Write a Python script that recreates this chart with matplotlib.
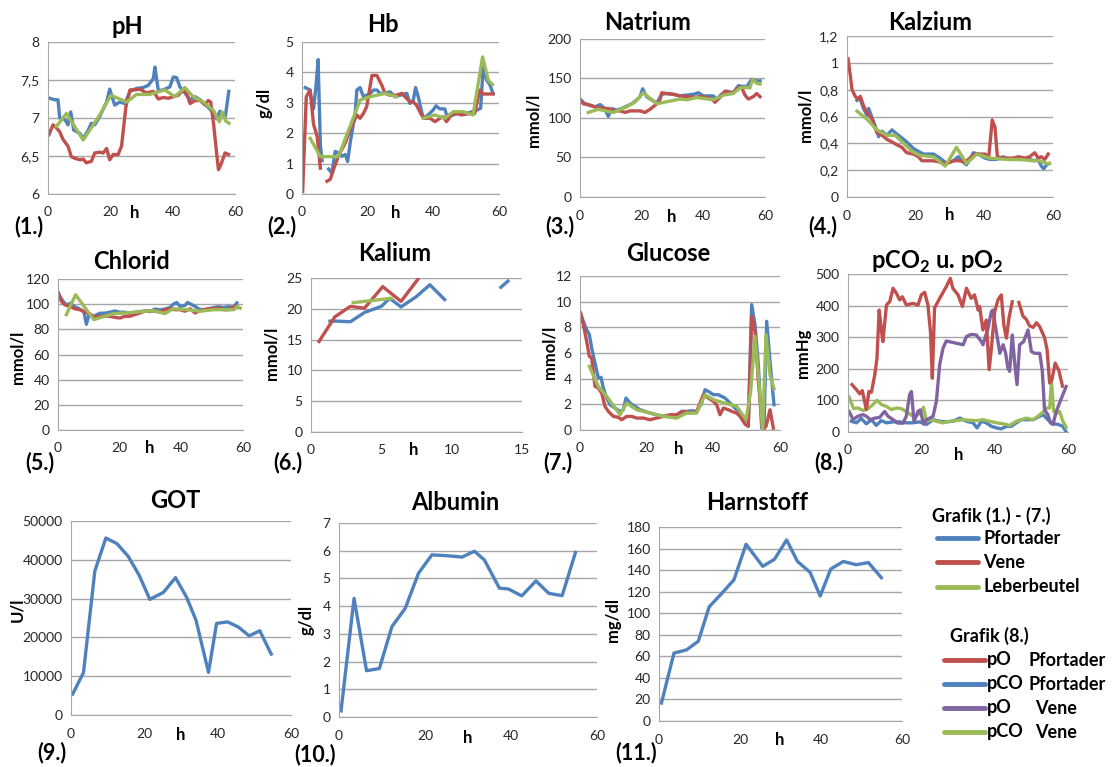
import numpy as np
import matplotlib
matplotlib.use('Agg')
import matplotlib.pyplot as plt
from matplotlib.ticker import FuncFormatter

plt.rcParams['font.family'] = ['Lato', 'DejaVu Sans']
plt.rcParams['mathtext.fontset'] = 'custom'
plt.rcParams['mathtext.rm'] = 'Lato'
plt.rcParams['mathtext.bf'] = 'Lato:bold'

BLUE = '#4F81BD'
RED = '#C0504D'
GREEN = '#9BBB59'
PURPLE = '#8064A2'
GRID = '#A6A6A6'
nan = np.nan

# (1.) pH
ph_pf_t = [0.5, 2.1, 3.2, 3.75, 5.4, 6.4, 7.3, 8.25, 10.2, 11.3, 12.9, 13.9, 15.0, 16.6, 18.8, 19.8, 21.4, 23.0, 24.7, 26.3, 28.4,
           30.5, 32.2, 33.8, 34.3, 35.4, 37.0, 39.1, 40.2, 41.3, 42.3, 43.9, 45.6, 47.2, 48.8, 50.9, 53.1, 54.1, 55.2, 56.1, 56.9, 58.0]
ph_pf = [7.26, 7.24, 7.24, 7.0, 6.98, 6.91, 7.08, 6.84, 6.80, 6.73, 6.84, 6.93, 6.91, 7.02, 7.21, 7.38, 7.17, 7.21, 7.19, 7.35, 7.39,
         7.40, 7.43, 7.52, 7.67, 7.36, 7.37, 7.41, 7.54, 7.53, 7.41, 7.33, 7.24, 7.28, 7.24, 7.16, 7.07, 6.99, 7.09, 7.05, 7.02, 7.35]
ph_ve_t = [0.3, 1.6, 2.7, 3.75, 4.8, 6.4, 7.5, 8.6, 10.2, 11.3, 12.3, 13.9, 15.0, 16.6, 17.7, 18.8, 19.8, 20.9, 22.5, 23.6, 25.0,
           26.3, 27.9, 29.5, 31.6, 33.8, 35.4, 37.0, 38.6, 40.2, 41.8, 43.4, 44.5, 45.6, 47.2, 48.8, 50.4, 51.4, 52.2, 53.1, 54.1,
           54.7, 55.7, 56.8, 57.9]
ph_ve = [6.78, 6.91, 6.87, 6.82, 6.72, 6.63, 6.49, 6.47, 6.45, 6.46, 6.41, 6.43, 6.54, 6.55, 6.54, 6.60, 6.45, 6.52, 6.52, 6.63, 7.15,
         7.37, 7.37, 7.38, 7.33, 7.35, 7.25, 7.27, 7.26, 7.28, 7.30, 7.37, 7.32, 7.19, 7.23, 7.23, 7.17, 7.23, 7.21, 6.93, 6.54,
         6.32, 6.41, 6.54, 6.52]
ph_lb_t = [2.7, 5.9, 11.3, 16.6, 20.2, 25.2, 28.4, 32.7, 37.5, 40.7, 43.9, 46.6, 49.8, 53.1, 55.0, 55.9, 57.0, 58.1]
ph_lb = [6.89, 7.06, 6.71, 7.04, 7.30, 7.21, 7.31, 7.31, 7.37, 7.28, 7.40, 7.28, 7.21, 7.10, 6.95, 7.08, 6.96, 6.93]

# (2.) Hb
hb_pf_t = [1.0, 2.3, 3.5, 4.3, 4.9, 5.6, 6.1, 7.0, 8.1, 9.1, 10.1, 11.1, 12.1, 13.2, 13.9, 14.7, 16.2, 16.7, 17.7, 18.7, 19.7,
           20.7, 21.8, 22.8, 23.8, 25.3, 26.8, 28.3, 29.9, 31.9, 32.9, 33.9, 34.6, 35.4, 36.9, 38.4, 40.0, 40.8, 42.0, 43.5,
           44.2, 45.5, 47.1, 48.6, 50.1, 51.6, 53.1, 54.4, 55.2, 56.2, 57.2, 58.2]
hb_pf = [3.5, 3.43, 2.8, 3.6, 4.42, 1.6, 1.1, nan, 0.82, 0.69, 1.4, 1.35, 1.24, 1.3, 1.07, 1.7, 2.65, 3.42, 3.5, 3.2, 3.25,
         3.3, 3.42, 3.42, 3.31, 3.31, 3.36, 3.2, 3.25, 3.31, 2.98, 3.09, 3.5, 3.2, 2.49, 2.6, 2.77, 2.9, 2.8, 2.8,
         2.53, 2.58, 2.64, 2.64, 2.64, 2.7, 2.75, 2.82, 4.18, 3.75, 3.6, 3.3]
hb_ve_t = [0.2, 1.3, 2.5, 3.5, 4.6, 5.6, 6.6, 7.6, 8.6, 9.6, 11.1, 13.2, 14.7, 16.7, 17.7, 18.7, 19.7, 21.3, 22.8, 24.3, 25.3,
           26.8, 28.8, 30.4, 31.9, 32.9, 33.9, 34.9, 36.4, 37.4, 39.0, 40.5, 42.0, 43.0, 44.0, 45.5, 47.1, 48.6, 51.1, 52.6,
           54.1, 55.2, 56.7, 58.2]
hb_ve = [0.09, 3.2, 3.42, 2.3, 1.9, 0.85, nan, 0.42, 0.48, 0.81, 1.25, 1.69, 2.13, 2.6, 2.49, 2.65, 2.87, 3.9, 3.9, 3.58, 3.31,
         3.25, 3.25, 3.31, 3.14, 3.03, 3.03, 2.92, 2.6, 2.49, 2.49, 2.38, 2.49, 2.54, 2.38, 2.6, 2.65, 2.6, 2.65, 2.65,
         3.42, 3.29, 3.29, 3.29]
hb_lb_t = [2.5, 5.6, 11.1, 17.7, 20.7, 25.3, 28.8, 33.0, 36.9, 40.5, 43.5, 46.1, 49.1, 52.1, 55.0, 56.7, 58.0]
hb_lb = [1.83, 1.23, 1.23, 3.09, 3.2, 3.31, 3.2, nan, 2.49, 2.6, 2.49, 2.71, 2.71, 2.6, 4.51, 3.75, 3.6]

# (3.) Natrium
na_pf_t = [0.2, 1.6, 3.2, 4.9, 6.5, 7.8, 9.2, 10.3, 11.9, 13.5, 15.1, 16.8, 18.4, 19.5, 20.3, 21.6, 23.2, 24.9, 26.5, 28.1, 30.3,
           32.4, 34.6, 36.8, 38.4, 40.0, 41.6, 43.2, 44.3, 45.9, 47.6, 49.7, 51.4, 52.4, 54.1, 55.7, 57.3, 58.4]
na_pf = [123, 118, 116, 114, 117, 113, 102, 112, 110, 112, 115, 118, 123, 127, 137, 127, 123, 119, 130, 131, 130,
         128, 129, 130, 132, 128, 128, 128, 124, 130, 134, 132, 141, 140, 140, 149, 147, 147]
na_ve_t = [0.0, 1.1, 2.7, 4.3, 5.9, 7.6, 9.2, 10.8, 13.0, 14.6, 16.2, 17.8, 19.5, 21.1, 22.7, 24.3, 25.7, 26.5, 28.1, 30.3, 32.4,
           34.6, 36.8, 38.9, 41.1, 42.7, 43.8, 45.4, 47.0, 49.2, 51.4, 52.4, 53.5, 54.6, 56.2, 57.3, 58.4]
na_ve = [124, 118, 117, 115, 113, 112, 112, 109, 109, 107, 109, 109, 109, 107, 111, 116, 120, 132, 131, 130, 128,
         127, 126, 127, 126, 124, 120, 126, 134, 131, 138, 139, 129, 124, 127, 131, 127]
na_lb_t = [2.7, 5.9, 10.8, 15.1, 17.8, 20.5, 24.9, 32.4, 34.6, 37.8, 43.2, 46.5, 49.7, 51.9, 53.5, 55.1, 56.0, 57.3, 58.4]
na_lb = [107, 111, 107, 114, 120, 132, 118, 124, 123, 126, 123, 129, 131, 138, 139, 138, 149, 144, 143]

# (4.) Kalzium
ca_pf_t = [2.9, 3.7, 4.8, 5.8, 6.3, 7.3, 8.2, 9.2, 10.2, 11.6, 13.1, 14.5, 16.0, 17.4, 19.4, 20.8, 22.3, 23.7, 25.2, 27.1, 29.0,
           31.0, 32.4, 33.9, 34.8, 35.8, 36.8, 38.2, 40.2, 41.6, 43.6, 45.5, 47.4, 49.4, 51.3, 53.2, 54.7, 55.7, 56.6, 57.3,
           58.1, 58.9]
ca_pf = [0.72, 0.74, 0.66, 0.61, 0.66, 0.59, 0.53, 0.45, 0.49, 0.46, 0.50, 0.47, 0.44, 0.41, 0.36, 0.34, 0.32, 0.32, 0.32, 0.29, 0.25,
         0.27, 0.30, 0.26, 0.24, 0.28, 0.33, 0.32, 0.29, 0.28, 0.28, 0.30, 0.28, 0.28, 0.28, 0.28, 0.27, 0.28, 0.23, 0.21,
         0.24, 0.25]
ca_ve_t = [0.3, 1.0, 1.45, 2.4, 3.1, 3.9, 4.8, 5.8, 7.3, 8.7, 10.2, 11.6, 13.1, 14.5, 16.0, 17.4, 19.4, 20.8, 21.8, 23.7, 25.2,
           27.1, 29.0, 31.0, 32.9, 34.4, 35.8, 37.3, 38.7, 40.2, 41.3, 42.3, 43.1, 43.8, 45.5, 47.0, 48.4, 49.9, 51.8, 53.2,
           54.7, 55.7, 56.6, 57.6, 58.6]
ca_ve = [1.03, 0.90, 0.80, 0.75, 0.73, 0.75, 0.68, 0.63, 0.58, 0.48, 0.46, 0.43, 0.41, 0.39, 0.37, 0.33, 0.32, 0.30, 0.27, 0.27, 0.27,
         0.26, 0.25, 0.27, 0.27, 0.26, 0.29, 0.32, 0.32, 0.32, 0.30, 0.575, 0.52, 0.30, 0.29, 0.29, 0.29, 0.30, 0.29, 0.30,
         0.33, 0.29, 0.30, 0.28, 0.32]
ca_lb_t = [2.9, 5.8, 8.7, 11.6, 14.0, 16.5, 18.9, 21.3, 25.2, 28.6, 31.9, 34.8, 37.8, 41.6, 46.5, 50.3, 54.2, 56.1, 58.1, 59.0]
ca_lb = [0.64, 0.58, 0.50, 0.46, 0.46, 0.40, 0.34, 0.31, 0.30, 0.23, 0.37, 0.25, 0.32, 0.29, 0.28, 0.28, 0.27, 0.27, 0.25, 0.25]

# (5.) Chlorid
cl_pf_t = [0.2, 1.6, 2.7, 4.0, 5.4, 7.0, 8.4, 9.2, 10.1, 11.4, 12.5, 13.6, 15.2, 16.8, 18.4, 20.1, 21.7, 23.3, 24.9, 26.6, 28.2,
           29.8, 31.5, 33.1, 34.7, 36.3, 37.4, 38.5, 39.6, 41.2, 42.0, 43.4, 44.5, 45.6, 47.2, 48.8, 50.4, 52.1, 53.7, 55.3,
           57.0, 58.0]
cl_pf = [107.5, 102.5, 99.4, 100.7, 98.0, 96.2, 94.1, 84.0, 92.0, 90.2, 91.5, 92.8, 92.8, 93.6, 94.6, 93.6, 93.6, 92.8, 93.6, 94.1,
         94.6, 94.1, 96.2, 95.4, 96.2, 97.3, 100.0, 101.3, 98.2, 99.0, 101.3, 99.6, 98.2, 96.2, 95.4, 96.2, 97.3, 98.0, 97.3,
         98.0, 97.3, 101.0]
cl_ve_t = [0.2, 1.1, 2.2, 3.8, 5.4, 7.0, 8.7, 10.3, 11.9, 13.6, 15.2, 16.8, 18.4, 20.1, 21.7, 23.3, 24.9, 26.6, 28.2, 29.8, 31.5,
           33.1, 34.7, 36.3, 38.0, 39.6, 41.2, 42.8, 44.5, 45.6, 47.2, 48.8, 50.4, 52.1, 53.7, 55.3, 56.4, 57.5, 58.2]
cl_ve = [108.7, 102.1, 99.5, 98.2, 96.4, 95.6, 93.8, 92.2, 89.5, 90.4, 90.4, 90.4, 89.5, 89.0, 90.4, 90.4, 91.7, 93.0, 94.4, 94.9,
         94.4, 93.8, 95.6, 96.4, 95.6, 95.6, 94.4, 96.4, 93.0, 94.4, 95.6, 96.4, 96.4, 96.9, 95.6, 95.6, 97.4, 98.2, 97.4]
cl_lb_t = [2.7, 5.7, 11.6, 17.9, 24.4, 30.9, 34.7, 37.4, 41.8, 46.1, 50.4, 54.8, 57.0, 58.1, 59.1]
cl_lb = [91.7, 107.5, 87.7, 92.4, 93.5, 94.9, 92.5, 96.4, 95.6, 94.4, 95.6, 95.6, 95.6, 98.2, 96.9]

# (6.) Kalium (x axis 0-15)
k_pf_t = [1.35, 1.8, 2.8, 3.8, 5.0, 5.6, 6.4, 7.5, 8.45, 9.5, 11.5, 13.5, 14.0]
k_pf = [18.0, 18.0, 17.9, 19.4, 20.4, 21.7, 20.3, 22.0, 23.9, 21.5, nan, 23.5, 24.5]
k_ve_t = [0.57, 1.7, 2.8, 3.8, 5.1, 6.4, 7.6]
k_ve = [14.7, 18.7, 20.4, 20.1, 23.6, 21.2, 24.8]
k_lb_t = [3.0, 4.2, 5.7]
k_lb = [21.0, 21.3, 21.7]

# (7.) Glucose
gl_pf_t = [0.2, 1.0, 2.0, 2.8, 3.5, 4.5, 5.5, 6.3, 7.0, 8.0, 9.0, 10.5, 12.0, 13.0, 13.8, 15.0, 16.5, 18.0, 19.5, 21.0, 23.0,
           25.0, 27.0, 29.0, 30.5, 32.0, 33.5, 35.0, 36.5, 37.5, 38.5, 40.0, 41.5, 42.5, 43.5, 44.5, 46.0, 47.5, 49.0, 50.5,
           51.5, 52.5, 53.5, 54.5, 55.2, 56.0, 57.0, 58.2]
gl_pf = [9.04, 8.47, 7.82, 7.43, 6.39, 5.22, 4.05, 4.10, 3.27, 2.49, 1.97, 1.71, 1.45, 1.58, 2.49, 2.10, 1.84, 1.58, 1.45, 1.32, 1.19,
         1.06, 1.06, 1.19, 1.45, 1.45, 1.50, 1.45, 2.10, 3.14, 3.01, 2.75, 2.75, 2.62, 2.49, 2.23, 1.84, 1.45, 0.93, 0.67,
         9.77, 8.21, 5.09, 0.15, 0.15, 8.47, 5.35, 1.97]
gl_ve_t = [0.2, 1.0, 2.0, 2.8, 3.5, 4.5, 5.5, 6.5, 7.5, 8.5, 10.0, 11.5, 12.5, 14.0, 15.5, 17.0, 19.0, 21.0, 23.0, 25.0, 27.0,
           29.0, 31.0, 33.0, 35.0, 37.0, 38.5, 40.0, 41.0, 42.0, 43.0, 44.5, 45.5, 47.0, 48.0, 49.5, 50.5, 51.5, 52.5, 53.5,
           54.8, 55.8, 57.0, 58.0]
gl_ve = [9.12, 8.21, 6.91, 5.74, 5.61, 3.40, 3.27, 2.88, 1.84, 1.45, 1.06, 0.99, 0.80, 1.06, 1.06, 0.93, 0.93, 0.80, 0.93, 1.06, 1.19,
         1.19, 1.45, 1.32, 1.45, 2.75, 2.49, 2.23, 1.97, 1.19, 1.71, 1.58, 1.45, 1.32, 1.06, 0.46, 0.28, 8.86, 7.69, 3.79,
         0.0, 0.28, 1.58, 0.15]
gl_lb_t = [2.8, 5.5, 8.0, 12.0, 14.0, 17.0, 21.0, 25.0, 29.0, 32.0, 35.0, 37.5, 40.0, 44.0, 47.0, 49.8, 51.2, 52.5, 53.5, 54.8,
           55.8, 57.0, 58.2]
gl_lb = [4.96, 3.40, 2.62, 1.19, 2.10, 1.58, 1.32, 1.06, 0.93, 1.32, 1.32, 2.75, 2.36, 2.05, 1.84, 0.80, 3.0, 7.30, 4.3, 0.05,
         7.43, 4.3, 3.21]

# (8.) pCO2 / pO2
po_pf_t = [1.1, 2.3, 3.2, 3.9, 5.0, 5.7, 6.4, 7.3, 7.9, 8.5, 9.1, 9.5, 10.5, 11.4, 12.3, 13.2, 14.1, 14.8, 15.9, 17.7, 19.1,
           20.0, 20.9, 21.8, 22.5, 23.0, 23.6, 25.0, 26.8, 27.9, 28.6, 30.0, 31.2, 32.3, 33.6, 34.5, 35.5, 35.9, 36.8, 37.7,
           38.5, 39.1, 40.0, 40.9, 41.8, 42.5, 43.2, 43.9, 44.8, 45.7, 46.6, 47.7, 48.6, 49.5, 50.5, 51.4, 52.3, 53.6, 54.3,
           55.0, 55.6, 56.5, 57.5, 58.5]
po_pf = [150, 134, 121, 131, 71, 128, 126, 181, 233, 386, 323, 286, 402, 413, 455, 439, 418, 428, 402, 407, 402,
         434, 442, 402, 316, 170, 392, 423, 460, 486, 455, 434, 397, 455, 423, 434, 386, 397, 323, 354,
         197, 265, 381, 418, 434, 339, 297, 360, 412, nan, 410, 367, 357, 336, 331, 346, 333, 299, 260,
         155, 165, 218, 195, 145]
pco_pf_t = [0.9, 2.3, 3.6, 5.0, 6.4, 7.7, 9.1, 10.5, 12.3, 14.1, 15.9, 17.7, 19.5, 21.4, 23.2, 25.0, 26.8, 28.6, 30.5, 32.3,
            34.1, 35.2, 36.4, 37.7, 39.1, 40.5, 41.8, 43.2, 44.5, 45.9, 47.3, 48.6, 50.5, 51.8, 53.2, 54.5, 55.9, 57.3,
            58.6, 59.5]
pco_pf = [34, 29, 43, 26, 39, 21, 36, 29, 32, 32, 29, 29, 32, 24, 39, 34, 32, 34, 44, 34,
          29, 13, 34, 29, 18, 13, 10, 18, 18, 29, 39, 39, 39, 47, 55, 39, 26, 24,
          18, 0]
po_ve_t = [0.3, 1.4, 2.7, 4.1, 5.0, 6.1, 7.3, 8.6, 10.0, 10.9, 12.3, 13.6, 15.0, 15.9, 16.8, 17.3, 18.0, 19.1, 19.7, 20.6, 21.4,
           22.3, 23.2, 24.1, 25.0, 25.9, 26.8, 29.5, 31.4, 32.3, 33.6, 35.0, 36.4, 36.8, 38.2, 39.1, 39.5, 40.0, 40.9, 41.4,
           42.3, 43.0, 43.6, 44.1, 44.8, 45.5, 46.1, 46.8, 47.9, 49.1, 50.0, 50.9, 52.3, 53.0, 53.6, 54.5, 55.2, 55.9, 56.8,
           58.2, 59.5]
po_ve = [65, 39, 50, 55, 50, 39, 44, 46, 65, 50, 39, 28, 28, 50, 118, 128, 33, 65, 70, 25, 39,
         44, 50, 97, 213, 265, 288, 281, 276, 302, 309, 307, 286, 276, 328, 381, 386, 349, 286, 249,
         276, 249, 202, 192, 307, 213, 150, 276, 286, 323, 255, 249, 249, 192, 70, 55, 29, 24, 65,
         107, 144]
pco_ve_t = [0.3, 1.5, 2.7, 4.1, 5.5, 6.8, 7.9, 9.1, 10.5, 11.8, 13.2, 14.5, 15.9, 17.7, 19.1, 20.0, 20.6, 21.4, 22.7, 24.1, 25.9,
            27.7, 29.5, 31.4, 33.2, 35.0, 36.8, 38.6, 40.5, 42.3, 44.1, 45.9, 47.3, 48.6, 50.5, 51.8, 53.2, 54.3, 55.0, 55.5,
            56.1, 57.0, 57.7, 58.6, 59.5]
pco_ve = [110, 74, 76, 68, 74, 87, 100, 87, 81, 71, 76, 74, 65, 50, 55, 65, 78, 34, 39, 34, 29,
          34, 36, 39, 37, 36, 39, 34, 29, 26, 21, 34, 39, 44, 39, 50, 63, 76, 76, 160,
          65, 60, 65, 34, 15]

# (9.) GOT, (10.) Albumin, (11.) Harnstoff
got_t = [0.45, 3.4, 6.5, 9.5, 12.5, 15.6, 18.6, 21.5, 25.2, 28.5, 31.5, 34.1, 37.5, 39.7, 42.7, 45.6, 48.6, 51.5, 54.6]
got = [5400, 10900, 37100, 45600, 44200, 40900, 36000, 29800, 31600, 35400, 30400, 24400, 11000, 23600, 24000, 22700,
       20400, 21700, 15700]
alb_t = [0.47, 3.5, 6.4, 9.4, 12.3, 15.4, 18.5, 21.6, 25.1, 28.6, 31.5, 33.8, 37.3, 39.4, 42.5, 45.8, 48.8, 51.9, 55.0]
alb = [0.22, 4.28, 1.67, 1.75, 3.26, 3.92, 5.19, 5.85, 5.82, 5.77, 5.98, 5.67, 4.65, 4.62, 4.37, 4.91, 4.46, 4.38, 5.94]
hst_t = [0.6, 3.7, 6.8, 9.7, 12.4, 15.4, 18.5, 21.5, 25.6, 28.5, 31.5, 34.2, 37.3, 39.8, 42.4, 45.5, 48.7, 51.7, 54.9]
hst = [16.7, 63, 66, 74, 106, 118, 131, 164, 143.5, 150, 168, 148, 138, 116, 141, 148, 145, 147, 133]

W, H = 1112, 767
fig = plt.figure(figsize=(W / 100, H / 100), dpi=100)
fmt = FuncFormatter(lambda v, p: ('%g' % v).replace('.', ','))


def panel(box, ylim, ystep, xlim=(0, 60), xstep=20):
    l, t, r, b = box
    ax = fig.add_axes([l / W, 1 - b / H, (r - l) / W, (b - t) / H])
    ax.set_xlim(*xlim)
    ax.set_ylim(*ylim)
    ax.set_xticks(np.arange(xlim[0], xlim[1] + 0.001, xstep))
    ax.set_yticks(np.arange(ylim[0], ylim[1] + ystep * 0.01, ystep))
    ax.yaxis.set_major_formatter(fmt)
    ax.xaxis.set_major_formatter(fmt)
    ax.grid(axis='y', color=GRID, lw=1)
    ax.set_axisbelow(True)
    for s in ['top', 'right']:
        ax.spines[s].set_visible(False)
    for s in ['left', 'bottom']:
        ax.spines[s].set_color(GRID)
    ax.tick_params(length=0, labelsize=10, labelcolor='#262626')
    ax.tick_params(axis='x', pad=9)
    ax.tick_params(axis='y', pad=6)
    return ax


def txt(x, y, s, size=11, rot=0, ha='center'):
    fig.text(x / W, 1 - y / H, s, fontsize=size, fontweight='bold', rotation=rot, ha=ha, va='center')


def lines(ax, series, lw=2.4):
    for t, v, c in series:
        ax.plot(t, v, color=c, lw=lw, solid_joinstyle='round', clip_on=True)


ax1 = panel((48, 42, 235, 194), (6, 8), 0.5)
lines(ax1, [(ph_pf_t, ph_pf, BLUE), (ph_ve_t, ph_ve, RED), (ph_lb_t, ph_lb, GREEN)])
ax2 = panel((302, 42, 499, 194), (0, 5), 1)
lines(ax2, [(hb_pf_t, hb_pf, BLUE), (hb_ve_t, hb_ve, RED), (hb_lb_t, hb_lb, GREEN)])
ax3 = panel((580, 39, 765, 197), (0, 200), 50)
lines(ax3, [(na_pf_t, na_pf, BLUE), (na_ve_t, na_ve, RED), (na_lb_t, na_lb, GREEN)])
ax4 = panel((847, 36, 1053, 197), (0, 1.2), 0.2)
lines(ax4, [(ca_pf_t, ca_pf, BLUE), (ca_ve_t, ca_ve, RED), (ca_lb_t, ca_lb, GREEN)])
ax5 = panel((58, 279, 243, 430), (0, 120), 20)
lines(ax5, [(cl_pf_t, cl_pf, BLUE), (cl_ve_t, cl_ve, RED), (cl_lb_t, cl_lb, GREEN)])
ax6 = panel((311, 278, 522, 432), (0, 25), 5, xlim=(0, 15), xstep=5)
lines(ax6, [(k_pf_t, k_pf, BLUE), (k_ve_t, k_ve, RED), (k_lb_t, k_lb, GREEN)])
ax7 = panel((580, 276, 780, 430), (0, 12), 2)
lines(ax7, [(gl_pf_t, gl_pf, BLUE), (gl_ve_t, gl_ve, RED), (gl_lb_t, gl_lb, GREEN)])
ax8 = panel((848, 274, 1068, 432), (0, 500), 100)
lines(ax8, [(pco_pf_t, pco_pf, BLUE), (pco_ve_t, pco_ve, GREEN), (po_ve_t, po_ve, PURPLE), (po_pf_t, po_pf, RED)])
ax9 = panel((71, 521, 291, 715), (0, 50000), 10000)
lines(ax9, [(got_t, got, BLUE)])
ax10 = panel((339, 523, 597, 717), (0, 7), 1)
lines(ax10, [(alb_t, alb, BLUE)])
ax11 = panel((659, 527, 902, 721), (0, 180), 20)
lines(ax11, [(hst_t, hst, BLUE)])

# titles
for x, y, s in [(127, 27, 'pH'), (383, 25, 'Hb'), (648, 22, 'Natrium'), (930, 22, 'Kalzium'),
                (132, 262, 'Chlorid'), (395, 253, 'Kalium'), (668, 253, 'Glucose'),
                (937, 262, r'pCO$_\mathbf{2}$ u. pO$_\mathbf{2}$'),
                (175, 500, 'GOT'), (455, 503, 'Albumin'), (757, 503, 'Harnstoff')]:
    txt(x, y, s, size=17)

# panel numbers
for x, y, s in [(29, 227, '(1.)'), (282, 227, '(2.)'), (560, 227, '(3.)'), (823, 227, '(4.)'),
                (40, 463, '(5.)'), (288, 463, '(6.)'), (558, 463, '(7.)'), (829, 463, '(8.)'),
                (52, 753, '(9.)'), (315, 755, '(10.)'), (636, 753, '(11.)')]:
    txt(x, y, s, size=15.5)

# x labels "h"
for x, y in [(135, 213), (396, 213), (672, 217), (950, 215), (150, 448), (414, 450), (679, 449),
             (959, 455), (181, 735), (468, 738), (780, 740)]:
    txt(x, y, 'h', size=12)

# y labels
for x, y, s in [(265, 103, 'g/dl'), (533, 120, 'mmol/l'), (805, 115, 'mmol/l'), (18, 357, 'mmol/l'),
                (272, 353, 'mmol/l'), (550, 352, 'mmol/l'), (803, 353, 'mmHg'), (17, 610, 'U/l'),
                (307, 620, 'g/dl'), (613, 620, 'mg/dl')]:
    txt(x, y, s, size=12, rot=90)

# legend
txt(932, 516, 'Grafik (1.) - (7.)', size=13, ha='left')
for y, c, s in [(538, BLUE, 'Pfortader'), (562, RED, 'Vene'), (587, GREEN, 'Leberbeutel')]:
    fig.add_artist(plt.Line2D([937 / W, 978 / W], [1 - y / H, 1 - y / H], color=c, lw=3.5, solid_capstyle='round'))
    txt(983, y, s, size=13, ha='left')
txt(950, 636, 'Grafik (8.)', size=13, ha='left')
for y, c, a, b, bx in [(660, RED, 'pO', 'Pfortader', 1029), (684, BLUE, 'pCO', 'Pfortader', 1029),
                       (708, PURPLE, 'pO', 'Vene', 1035), (732, GREEN, 'pCO', 'Vene', 1035)]:
    fig.add_artist(plt.Line2D([944 / W, 985 / W], [1 - y / H, 1 - y / H], color=c, lw=3.5, solid_capstyle='round'))
    txt(987, y, a, size=13, ha='left')
    txt(bx, y, b, size=13, ha='left')

fig.savefig('out.png', dpi=100)
